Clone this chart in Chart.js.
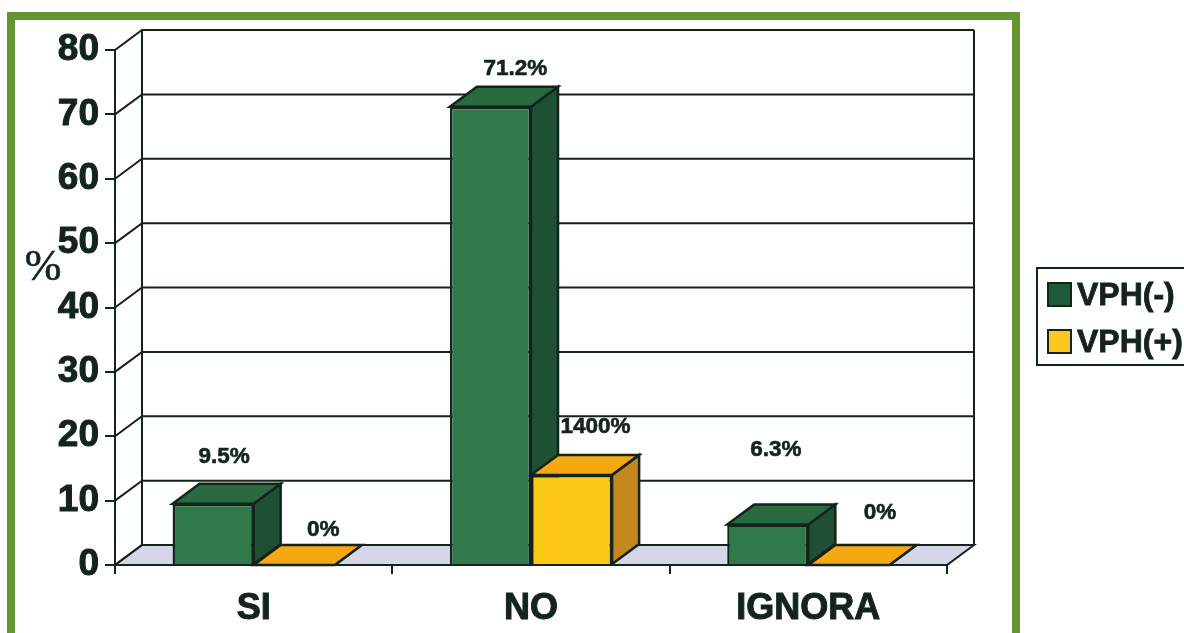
<!DOCTYPE html>
<html>
<head>
<meta charset="utf-8">
<title>VPH</title>
<script src="https://cdn.jsdelivr.net/npm/chart.js@4/dist/chart.umd.min.js"></script>
<style>
    html, body { margin: 0; padding: 0; background: #fdfefd; overflow: hidden; }
    canvas { display: block; filter: blur(0.6px); }
</style>
</head>
<body>
<canvas id="chart" width="1184" height="633"></canvas>
<script>
const categories = ["SI", "NO", "IGNORA"];
const seriesNames = ["VPH(-)", "VPH(+)"];
const vphNegative = [9.5, 71.2, 6.3];
const vphPositive = [0, 14, 0];
const vphNegativeLabels = ["9.5%", "71.2%", "6.3%"];
const vphPositiveLabels = ["0%", "1400%", "0%"];

const INK = "#14241b";
const DEPTH_X = 27;
const DEPTH_Y = -20;

// label offsets from the top centre of each bar, the original places them by hand
const labelNudge = [
    [[11, -47], [25, -38], [8, -75]],
    [[29, -35], [24, -48], [31, -52]]
];

const faces = [
    { front: "#30794b", top: "#28693f", side: "#1e5034", labels: vphNegativeLabels, swatch: "#1c5a38" },
    { front: "#fcca16", top: "#f5a80f", side: "#c5881f", labels: vphPositiveLabels, swatch: "#fcc820" }
];

function poly(ctx, points, fill) {
    ctx.beginPath();
    points.forEach((p, i) => i ? ctx.lineTo(p[0], p[1]) : ctx.moveTo(p[0], p[1]));
    ctx.closePath();
    if (fill) {
        ctx.fillStyle = fill;
        ctx.fill();
    }
    ctx.stroke();
}

function heavyText(ctx, text, x, y) {
    ctx.strokeText(text, x, y);
    ctx.fillText(text, x, y);
}

const frame3d = {
    id: "frame3d",
    beforeDraw(chart) {
        const ctx = chart.ctx;
        ctx.save();
        // green picture frame, its bottom edge runs off the scan
        ctx.strokeStyle = "#65962f";
        ctx.lineWidth = 8;
        ctx.strokeRect(11, 16, 1005, 640);
        ctx.restore();
    },
    beforeDatasetsDraw(chart) {
        const ctx = chart.ctx;
        const { left, right, top, bottom } = chart.chartArea;
        const y = chart.scales.y;
        ctx.save();
        ctx.strokeStyle = INK;
        ctx.lineWidth = 2;

        // floor
        poly(ctx, [[left, bottom], [right, bottom], [right + DEPTH_X, bottom + DEPTH_Y], [left + DEPTH_X, bottom + DEPTH_Y]], "#d6d6e8");

        // back wall grid and the slanted lines on the side wall
        y.ticks.forEach(t => {
            const py = y.getPixelForValue(t.value);
            ctx.beginPath();
            ctx.moveTo(left, py);
            ctx.lineTo(left + DEPTH_X, py + DEPTH_Y);
            ctx.lineTo(right + DEPTH_X, py + DEPTH_Y);
            ctx.stroke();
        });
        ctx.beginPath();
        ctx.moveTo(left + DEPTH_X, top + DEPTH_Y);
        ctx.lineTo(left + DEPTH_X, bottom + DEPTH_Y);
        ctx.moveTo(right + DEPTH_X, top + DEPTH_Y);
        ctx.lineTo(right + DEPTH_X, bottom + DEPTH_Y);
        ctx.stroke();

        // top and side faces of the bars, the fronts come from the library
        ctx.lineWidth = 2.5;
        categories.forEach((c, i) => {
            faces.forEach((f, d) => {
                const bar = chart.getDatasetMeta(d).data[i];
                const x0 = bar.x - bar.width / 2;
                const x1 = bar.x + bar.width / 2;
                poly(ctx, [[x1, bar.y], [x1 + DEPTH_X, bar.y + DEPTH_Y], [x1 + DEPTH_X, bar.base + DEPTH_Y], [x1, bar.base]], f.side);
                poly(ctx, [[x0, bar.y], [x1, bar.y], [x1 + DEPTH_X, bar.y + DEPTH_Y], [x0 + DEPTH_X, bar.y + DEPTH_Y]], f.top);
            });
        });
        ctx.restore();
    },
    afterDraw(chart) {
        const ctx = chart.ctx;
        ctx.save();
        ctx.fillStyle = INK;
        ctx.strokeStyle = INK;
        ctx.lineWidth = 0.6;
        ctx.textAlign = "center";
        ctx.textBaseline = "middle";

        // value labels
        ctx.font = "bold 22.5px 'Liberation Sans'";
        faces.forEach((f, d) => {
            chart.getDatasetMeta(d).data.forEach((bar, i) => {
                heavyText(ctx, f.labels[i], bar.x + labelNudge[d][i][0], bar.y + labelNudge[d][i][1]);
            });
        });

        // axis unit, sits beside the ticks and is not rotated
        ctx.font = "44px 'Liberation Serif'";
        heavyText(ctx, "%", 43, 268);

        // legend, cut off by the right edge of the scan
        ctx.lineWidth = 2;
        ctx.strokeRect(1037, 268, 160, 97);
        ctx.textAlign = "left";
        ctx.textBaseline = "alphabetic";
        ctx.font = "bold 32px 'Liberation Sans'";
        faces.forEach((f, d) => {
            const rowTop = 283 + d * 47;
            ctx.fillStyle = f.swatch;
            ctx.fillRect(1048, rowTop, 23, 23);
            ctx.lineWidth = 2;
            ctx.strokeRect(1048, rowTop, 23, 23);
            ctx.fillStyle = INK;
            ctx.lineWidth = 0.8;
            heavyText(ctx, chart.data.datasets[d].label, 1077, rowTop + 22);
        });
        ctx.restore();
    }
};

new Chart(document.getElementById("chart"), {
    type: "bar",
    data: {
        labels: categories,
        datasets: [
            { label: seriesNames[0], data: vphNegative, backgroundColor: faces[0].front, borderColor: INK, borderWidth: 2.5 },
            { label: seriesNames[1], data: vphPositive, backgroundColor: faces[1].front, borderColor: INK, borderWidth: 2.5 }
        ]
    },
    plugins: [frame3d],
    options: {
        responsive: false,
        animation: false,
        devicePixelRatio: 1,
        layout: { padding: { top: 50, right: 237, left: 0, bottom: 0 } },
        datasets: { bar: { barPercentage: 1, categoryPercentage: 0.585 } },
        plugins: {
            legend: { display: false },
            tooltip: { enabled: false }
        },
        scales: {
            x: {
                afterFit: s => { s.height = 68; },
                grid: { drawOnChartArea: false, color: INK, lineWidth: 2, tickLength: 9 },
                border: { color: INK, width: 2 },
                ticks: { color: INK, padding: 13, maxRotation: 0, textStrokeColor: INK, textStrokeWidth: 1, font: { family: "Liberation Sans", weight: "bold", size: 36 } }
            },
            y: {
                min: 0,
                max: 80,
                afterFit: s => { s.width = 115; },
                grid: { drawOnChartArea: false, color: INK, lineWidth: 2, tickLength: 10 },
                border: { color: INK, width: 2 },
                ticks: { stepSize: 10, color: INK, padding: 6, textStrokeColor: INK, textStrokeWidth: 1, font: { family: "Liberation Sans", weight: "bold", size: 37 } }
            }
        }
    }
});
</script>
</body>
</html>
